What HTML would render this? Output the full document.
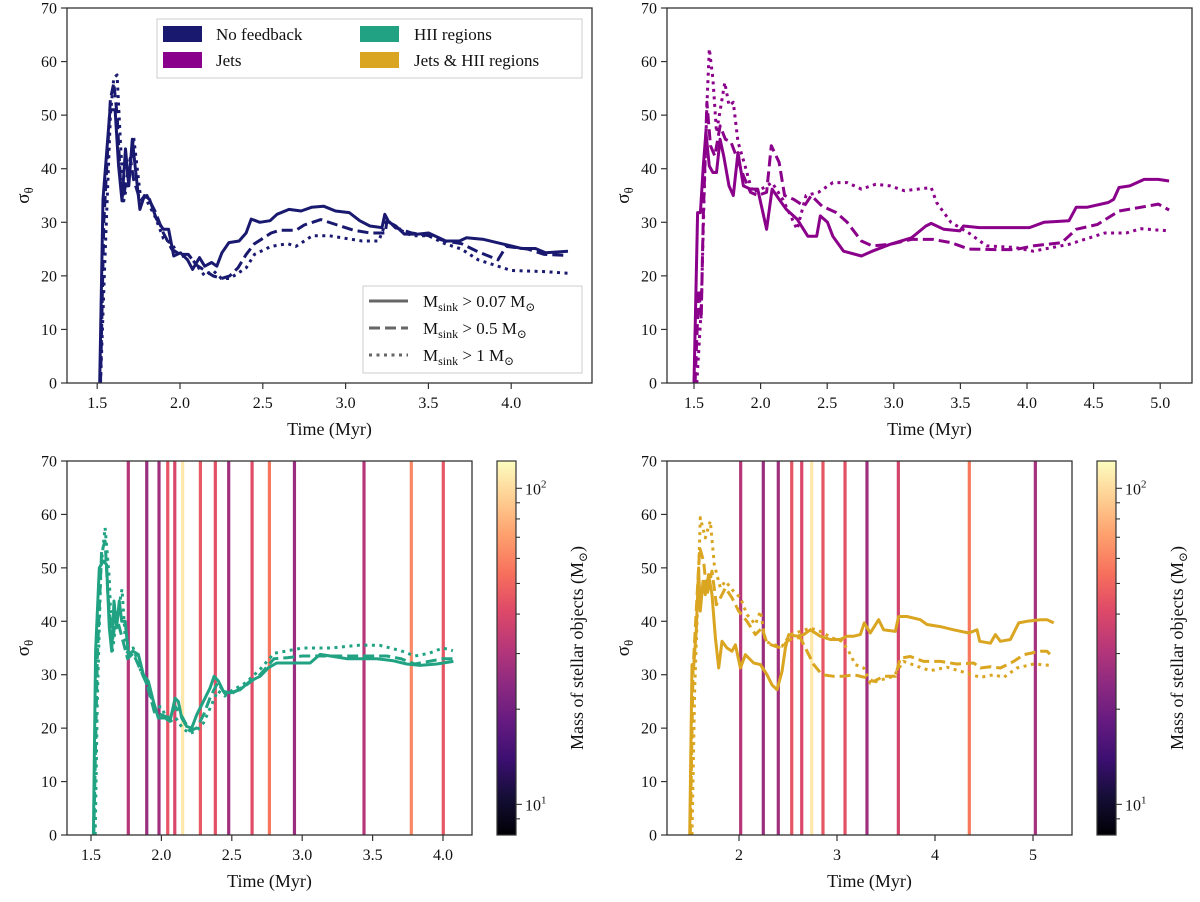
<!DOCTYPE html>
<html><head><meta charset="utf-8"><style>
html,body{margin:0;padding:0;background:#fff;}
svg{display:block;font-family:"Liberation Serif","DejaVu Serif",serif;}
</style></head><body>
<svg id="fig" width="1200" height="902" viewBox="0 0 1200 902" xmlns="http://www.w3.org/2000/svg">
<defs>
<linearGradient id="magma" x1="0" y1="1" x2="0" y2="0">
<stop offset="0" stop-color="#000004"/><stop offset="0.1" stop-color="#140e36"/><stop offset="0.2" stop-color="#3b0f70"/><stop offset="0.3" stop-color="#641a80"/><stop offset="0.4" stop-color="#8c2981"/><stop offset="0.5" stop-color="#b73779"/><stop offset="0.6" stop-color="#de4968"/><stop offset="0.7" stop-color="#f7705c"/><stop offset="0.8" stop-color="#fe9f6d"/><stop offset="0.9" stop-color="#fecf92"/><stop offset="1" stop-color="#fcfdbf"/>
</linearGradient>
</defs>
</svg>
<script>
// ---- data ----
const tlSolidT=[1.515,1.535,1.577,1.608,1.629,1.650,1.671,1.691,1.712,1.733,1.758,1.785,1.816,1.858,1.899,1.931,1.962,2.003,2.045,2.076,2.118,2.149,2.191,2.222,2.253,2.295,2.357,2.399,2.430,2.482,2.544,2.586,2.658,2.731,2.794,2.867,2.939,3.022,3.085,3.147,3.220,3.237,3.262,3.303,3.355,3.438,3.501,3.605,3.688,3.730,3.834,3.958,4.062,4.146,4.208,4.343];
const tlSolidS=[0,34.3,51,51,40.5,34,43.7,36.8,45.5,39.3,32.4,35,34.3,30.6,28.7,28.7,23.7,24.3,23,21.2,23.4,21.8,22.5,21.8,24.3,26.2,26.5,28,30.6,30,30.3,31.5,32.4,32.1,32.8,33,32.1,31.8,30.3,29.3,29,31.5,30,29.3,27.8,27.8,28,26.5,26.5,27.1,26.8,25.9,25.1,25.1,24.3,24.6];
const tlDashT=[1.52,1.54,1.58,1.6,1.62,1.64,1.66,1.7,1.72,1.76,1.8,1.85,1.9,1.95,2.0,2.05,2.1,2.15,2.2,2.25,2.3,2.35,2.4,2.45,2.5,2.55,2.6,2.7,2.75,2.85,2.95,3.05,3.15,3.24,3.25,3.3,3.4,3.5,3.6,3.7,3.8,3.92,3.97,4.1,4.2,4.34];
const tlDashS=[0,30,53,56,50,38,35,42,38,34,35,32,28,25,24,24,22,21,20,19.5,20,21.5,24,26,27,28,28.5,28.5,29.5,30.5,29.5,28.5,28,28,30.5,29,28,27.5,26.5,26,24.5,23,25.5,25,24,23.8];
const tlDotT=[1.52,1.545,1.58,1.6,1.62,1.64,1.66,1.7,1.72,1.76,1.8,1.85,1.9,1.95,2.0,2.05,2.1,2.15,2.2,2.25,2.3,2.35,2.4,2.45,2.55,2.65,2.7,2.8,2.9,3.0,3.1,3.2,3.25,3.3,3.4,3.5,3.6,3.7,3.8,3.9,4.0,4.2,4.34];
const tlDotS=[0,22,50,57,57.5,45,34,40,46,35,34,31,27,26,23.5,24,22,20,21,19.5,19.5,20.5,21.5,24,25.5,26,25.5,27.5,27.5,27,26.5,26.5,30.5,29,27.5,27.5,26,25,23,22,21,20.8,20.5];

const trSolidT=[1.5,1.527,1.548,1.570,1.589,1.615,1.642,1.669,1.696,1.723,1.763,1.795,1.830,1.871,1.924,1.978,2.045,2.086,2.139,2.193,2.274,2.354,2.421,2.448,2.502,2.542,2.623,2.757,2.838,2.972,3.133,3.241,3.281,3.375,3.496,3.523,3.643,3.831,4.019,4.127,4.315,4.369,4.449,4.610,4.651,4.691,4.772,4.879,4.986,5.067];
const trSolidS=[0,31.8,31.8,40.5,46.8,40.5,39.3,39.3,45.5,42.4,36.8,35,43,36.8,36.2,36.2,28.7,36.2,34.3,32.4,30.6,27.4,27.4,31.2,30,27.4,24.6,23.7,24.6,25.9,27.1,29.3,29.8,28.7,28.4,29.3,29,29,29,30,30.3,32.8,32.8,33.7,34.3,36.5,36.8,38,38,37.7];
const trDashT=[1.508,1.535,1.554,1.570,1.597,1.624,1.656,1.696,1.736,1.777,1.817,1.871,1.924,1.978,2.045,2.080,2.139,2.180,2.247,2.327,2.381,2.462,2.569,2.650,2.757,2.838,2.972,3.133,3.294,3.429,3.563,3.778,3.912,4.046,4.261,4.369,4.530,4.691,4.852,4.986,5.067];
const trDashS=[0,17.5,11.9,31.2,52.4,44.3,42.4,48,45.5,45,42.4,38.7,35.6,35,35.6,44.3,41.2,35,34.3,33,35,33,31.8,30,26.5,25.6,25.9,26.8,26.8,26.2,25,24.9,24.9,25.6,26.2,28.7,29.6,32.1,32.8,33.4,32.3];
const trDotT=[1.521,1.554,1.575,1.597,1.615,1.642,1.669,1.731,1.763,1.795,1.830,1.884,1.938,2.005,2.086,2.166,2.274,2.341,2.435,2.542,2.650,2.757,2.864,2.972,3.079,3.281,3.321,3.429,3.563,3.697,3.912,4.046,4.315,4.584,4.745,4.852,5.067];
const trDotS=[0,13.7,34.3,51.8,62.4,56.8,46.8,56.1,51.8,52.4,45,40.5,35.6,36.2,37.4,34.3,28.7,35,35.6,37.4,37.4,36.2,37.1,36.8,35.9,36.5,33.7,30,28,25.6,25.3,24.6,25.9,28,28,28.8,28.4];

const blSolidT=[1.517,1.533,1.559,1.588,1.611,1.630,1.647,1.663,1.682,1.701,1.718,1.742,1.766,1.797,1.836,1.872,1.907,1.943,1.978,2.026,2.061,2.097,2.120,2.144,2.180,2.215,2.251,2.298,2.345,2.374,2.405,2.440,2.487,2.559,2.630,2.701,2.760,2.819,2.937,3.056,3.127,3.222,3.316,3.529,3.648,3.742,3.837,3.956,4.074];
const blSolidS=[0,34.4,50,51.3,50.6,38.8,34.4,43.8,38.8,43.8,40,40,33.8,34.4,33.8,30,28.8,25,21.9,21.9,21.3,25.6,25,21.9,20.3,20,22.5,25,27.5,29.7,28.8,26.9,26.6,27.2,28.8,29.7,31.3,32.2,32.2,32.2,33.8,33.4,33,33,32.6,32,31.75,32,32.5];
const blDashT=[1.52,1.545,1.575,1.6,1.62,1.65,1.68,1.71,1.76,1.8,1.85,1.9,1.95,2.0,2.05,2.1,2.15,2.2,2.25,2.3,2.35,2.4,2.45,2.5,2.6,2.7,2.8,2.9,3.0,3.2,3.4,3.6,3.7,3.8,3.9,4.0,4.07];
const blDashS=[0,33,53,55,45,36,41,38,33,34,31,28,23,22.5,22,24,22,19.5,20,22.5,26,28.5,26.5,26.5,28,30,33,33.2,33.5,33.5,33.5,33.5,33,32,32.5,33,33];
const blDotT=[1.53,1.545,1.57,1.6,1.63,1.65,1.68,1.72,1.75,1.8,1.85,1.9,1.95,2.0,2.05,2.1,2.15,2.2,2.25,2.3,2.35,2.4,2.45,2.5,2.6,2.7,2.8,2.9,3.0,3.2,3.4,3.55,3.7,3.8,3.9,4.0,4.07];
const blDotS=[0,25,50,57.5,48,34,40,46,34,35,31,28,24,24,21,22,20,19,19.5,21,24,27,26,27,28.5,31,34,34.5,35,35,35.5,35.5,34.5,33.5,34,35,34.5];

const brSolidT=[1.497,1.520,1.537,1.565,1.588,1.605,1.633,1.656,1.690,1.724,1.759,1.793,1.827,1.878,1.929,1.963,2.014,2.065,2.150,2.218,2.286,2.337,2.388,2.439,2.473,2.507,2.592,2.660,2.728,2.830,2.932,3.034,3.102,3.170,3.238,3.279,3.340,3.425,3.476,3.595,3.629,3.714,3.850,3.918,4.054,4.190,4.344,4.429,4.456,4.565,4.616,4.667,4.769,4.854,4.939,5.075,5.143,5.211];
const brSolidS=[0,31.9,31.3,38.75,50,41.9,47.5,45,48.75,45,36.9,31.25,36.25,35,34.4,35.6,31.25,33.75,32.2,31.9,30,28.1,27.2,30.6,35,37.5,37.2,37.5,38.4,37.2,36.6,36.6,37.2,37.2,37.5,39.7,37.8,40.3,38.4,38.1,40.9,40.9,40.3,39.4,39,38.4,37.8,38.4,36.25,35.9,37.5,36.25,36.6,39.7,40,40.3,40.3,39.7];
const brDashT=[1.503,1.531,1.554,1.599,1.639,1.673,1.724,1.769,1.810,1.861,1.929,1.997,2.082,2.167,2.235,2.286,2.371,2.439,2.490,2.558,2.626,2.694,2.762,2.847,2.966,3.068,3.170,3.306,3.374,3.476,3.595,3.646,3.748,3.884,4.054,4.224,4.395,4.463,4.565,4.667,4.803,4.905,5.075,5.143,5.194];
const brDashS=[0,30.6,38.75,53.75,51.25,45,49.4,43.1,44.4,46.25,44.4,41.9,40,37.5,38.75,35.9,35.3,35,36.25,36.9,36.9,34.4,31.9,30,29.7,29.7,30,29.4,28.75,29.7,29.7,33.1,33.4,32.5,32.5,32,32.2,31.25,31.5,31.25,32.5,33.75,34.4,34.4,33.4];
const brDotT=[1.520,1.548,1.578,1.605,1.656,1.707,1.748,1.810,1.861,1.946,2.014,2.082,2.167,2.218,2.269,2.354,2.439,2.524,2.626,2.728,2.830,2.949,3.051,3.119,3.187,3.272,3.340,3.442,3.578,3.680,3.816,3.952,4.122,4.327,4.463,4.599,4.701,4.837,5.007,5.177];
const brDotS=[0,27.5,43,59.4,55.6,58.75,50.6,46.25,47.5,45.6,44.4,41.25,39.4,41.9,36.25,35.6,35.3,37.5,38.1,38.75,38.1,36.9,36.25,34.4,31.9,31.25,28.4,29,29.7,32.5,31.6,30.75,31.4,30.3,29.5,30,29.5,31.25,32,31.75];

const blStarT=[1.765,1.896,1.983,2.045,2.095,2.151,2.277,2.383,2.478,2.644,2.767,2.945,3.439,3.775,4.002];
const blStarM=[31,26,27,45,40,107,46,43,27,42,56,26,31,62,45];
const brStarT=[2.017,2.248,2.401,2.538,2.640,2.742,2.857,3.082,3.306,3.626,4.350,5.024];
const brStarM=[31,26,27,45,40,107,45,43,27,38,56,28];

const yTicks=[0,10,20,30,40,50,60,70];
const tlXTicks=[1.5,2.0,2.5,3.0,3.5,4.0];
const trXTicks=[1.5,2.0,2.5,3.0,3.5,4.0,4.5,5.0];
const blXTicks=[1.5,2.0,2.5,3.0,3.5,4.0];
const brXTicks=[2,3,4,5];

// ---- drawing ----
const NS='http://www.w3.org/2000/svg';
const svg=document.getElementById('fig');
function mk(tag,attrs,parent){const e=document.createElementNS(NS,tag);for(const k in attrs)e.setAttribute(k,attrs[k]);(parent||svg).appendChild(e);return e;}
const MAGMA=[[0,0,4],[20,14,54],[59,15,112],[100,26,128],[140,41,129],[183,55,121],[222,73,104],[247,112,92],[254,159,109],[254,207,146],[252,253,191]];
const CMIN=8,CMAX=122;
function magma(m){let p=Math.log(m/CMIN)/Math.log(CMAX/CMIN);p=Math.max(0,Math.min(1,p))*10;const i=Math.min(9,Math.floor(p)),f=p-i;const a=MAGMA[i],b=MAGMA[i+1];return 'rgb('+a.map((v,k)=>Math.round(v+(b[k]-v)*f)).join(',')+')';}

const panels=[
 {id:'tl',x0:67,x1:592,y0:8,y1:383,ax:97.2,at:1.5,k:165.6,ticks:tlXTicks,fmt:1,color:'#191970',
  series:[[tlSolidT,tlSolidS,'solid'],[tlDashT,tlDashS,'dashed'],[tlDotT,tlDotS,'dotted']]},
 {id:'tr',x0:667,x1:1192,y0:8,y1:383,ax:694,at:1.5,k:133.2,ticks:trXTicks,fmt:1,color:'#8b008b',
  series:[[trSolidT,trSolidS,'solid'],[trDashT,trDashS,'dashed'],[trDotT,trDotS,'dotted']]},
 {id:'bl',x0:67,x1:472,y0:461,y1:835,ax:91,at:1.5,k:140.8,ticks:blXTicks,fmt:1,color:'#21a383',
  series:[[blSolidT,blSolidS,'solid'],[blDashT,blDashS,'dashed'],[blDotT,blDotS,'dotted']],
  starT:blStarT,starM:blStarM,cb:{x:497,w:19}},
 {id:'br',x0:667,x1:1072,y0:461,y1:835,ax:739,at:2,k:98,ticks:brXTicks,fmt:0,color:'#daa520',
  series:[[brSolidT,brSolidS,'solid'],[brDashT,brDashS,'dashed'],[brDotT,brDotS,'dotted']],
  starT:brStarT,starM:brStarM,cb:{x:1097,w:19}}
];
const dashes={solid:'none',dashed:'11 5',dotted:'3 4.5'};

panels.forEach(P=>{
 const X=t=>P.ax+(t-P.at)*P.k;
 const Y=s=>P.y1-(s/70)*(P.y1-P.y0);
 const g=mk('g',{});
 
 
 const cp=mk('clipPath',{id:'clip-'+P.id},g);
 mk('rect',{x:P.x0,y:P.y0,width:P.x1-P.x0,height:P.y1-P.y0},cp);
 const plot=mk('g',{'clip-path':'url(#clip-'+P.id+')'},g);
 if(P.starT){
  P.starT.forEach((t,i)=>{
   const l=mk('line',{x1:X(t),x2:X(t),y1:P.y0,y2:P.y1,stroke:magma(P.starM[i]),'stroke-width':3.2},plot);
   
   
  });
 }
 P.series.forEach(([ts,ss,st])=>{
  const d=ts.map((t,i)=>(i?'L':'M')+X(t).toFixed(1)+','+Y(ss[i]).toFixed(1)).join('');
  const p=mk('path',{d:d,fill:'none',stroke:P.color,'stroke-width':3,'stroke-dasharray':dashes[st],'stroke-linejoin':'round'},plot);
  
  
 });
 const fr=mk('rect',{x:P.x0,y:P.y0,width:P.x1-P.x0,height:P.y1-P.y0,fill:'none',stroke:'#333','stroke-width':1.3},g);
 
 
 yTicks.forEach(v=>{
  const y=Y(v);
  mk('line',{x1:P.x0-6,x2:P.x0,y1:y,y2:y,stroke:'#333','stroke-width':1.2},g);
  const tx=mk('text',{x:P.x0-10,y:y+5.5,'text-anchor':'end','font-size':16,fill:'#111'},g);
  tx.textContent=v;
  
  
 });
 P.ticks.forEach(v=>{
  const x=X(v);
  mk('line',{x1:x,x2:x,y1:P.y1,y2:P.y1+6,stroke:'#333','stroke-width':1.2},g);
  const tx=mk('text',{x:x,y:P.y1+25,'text-anchor':'middle','font-size':16,fill:'#111'},g);
  tx.textContent=P.fmt?v.toFixed(1):String(v);
  
  
 });
 const xl=mk('text',{x:(P.x0+P.x1)/2,y:P.y1+52,'text-anchor':'middle','font-size':18,fill:'#111'},g);
 xl.textContent='Time (Myr)';
 
 
 const yc=(P.y0+P.y1)/2, yx=P.x0-38;
 const yl=mk('text',{x:yx,y:yc,'text-anchor':'middle','font-size':19,fill:'#111',transform:'rotate(-90 '+yx+' '+yc+')'},g);
 yl.innerHTML='σ<tspan font-size="13" dy="4">θ</tspan>';
 
 
 if(P.cb){
  const cb=mk('g',{},g);
  
  
  mk('rect',{x:P.cb.x,y:P.y0,width:P.cb.w,height:P.y1-P.y0,fill:'url(#magma)',stroke:'#333','stroke-width':1.2},cb);
  const CY=m=>P.y1-Math.log(m/CMIN)/Math.log(CMAX/CMIN)*(P.y1-P.y0);
  [9,10,20,30,40,50,60,70,80,90,100].forEach(m=>{
   const y=CY(m), major=(m===10||m===100);
   mk('line',{x1:P.cb.x+P.cb.w,x2:P.cb.x+P.cb.w+(major?6:4),y1:y,y2:y,stroke:'#333','stroke-width':1.1},cb);
   if(major){
    const t=mk('text',{x:P.cb.x+P.cb.w+9,y:y+6,'font-size':16,fill:'#111'},cb);
    t.innerHTML='10<tspan font-size="11" dy="-7">'+(m===10?1:2)+'</tspan>';
   }
  });
  const lx=P.cb.x+P.cb.w+67;
  const lab=mk('text',{x:lx,y:yc,'text-anchor':'middle','font-size':18,fill:'#111',transform:'rotate(-90 '+lx+' '+yc+')'},cb);
  lab.innerHTML='Mass of stellar objects (M<tspan font-size="12" dy="4">⊙</tspan><tspan dy="-4">)</tspan>';
  
  
 }
});

// legends
const lg=mk('g',{});


mk('rect',{x:157,y:19,width:425,height:59,fill:'#fff',stroke:'#ccc','stroke-width':1},lg);
[['No feedback','#191970',163,216,26],['Jets','#8b008b',163,216,52],['HII regions','#21a383',360,414,26],['Jets & HII regions','#daa520',360,414,52]].forEach(([n,c,px,tx,y])=>{
 const r=mk('rect',{x:px,y:y,width:39,height:16,fill:c},lg);
 
 
 const t=mk('text',{x:tx,y:y+14,'font-size':17,fill:'#111'},lg);
 t.textContent=n;
 
 
});
const lg2=mk('g',{});


mk('rect',{x:363,y:286,width:219,height:87,fill:'#fff',stroke:'#ccc','stroke-width':1},lg2);
[['0.07','solid',301],['0.5','dashed',328],['1','dotted',355]].forEach(([v,st,y])=>{
 mk('line',{x1:369,x2:408,y1:y,y2:y,stroke:'#666','stroke-width':3,'stroke-dasharray':dashes[st]},lg2);
 const t=mk('text',{x:423,y:y+6,'font-size':17,fill:'#111'},lg2);
 t.innerHTML='M<tspan font-size="12" dy="4">sink</tspan><tspan dy="-4"> &gt; '+v+' M</tspan><tspan font-size="12" dy="4">⊙</tspan>';
 
 
});
</script>
</body></html>
